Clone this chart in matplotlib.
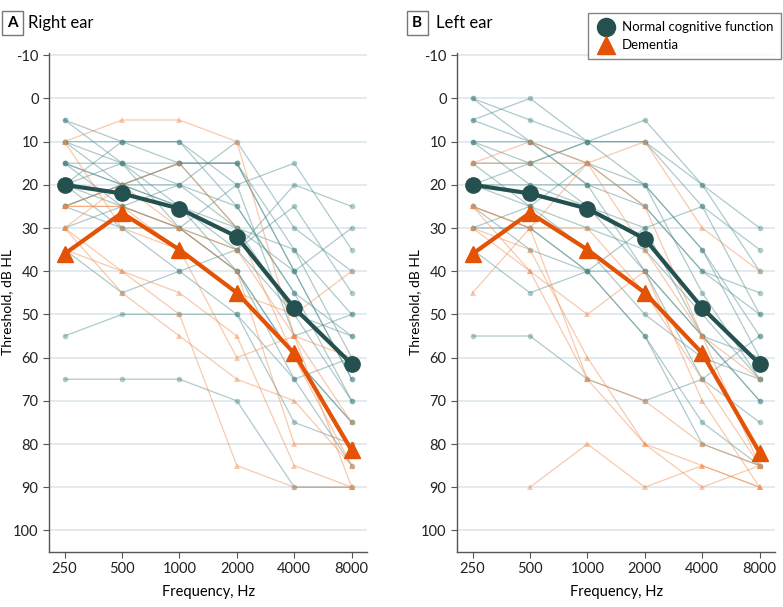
import numpy as np
import matplotlib
matplotlib.use("Agg")
import matplotlib.pyplot as plt
from matplotlib.lines import Line2D

plt.rcParams['font.family'] = ['Lato', 'DejaVu Sans']
plt.rcParams['axes.unicode_minus'] = False

freqs = ["250", "500", "1000", "2000", "4000", "8000"]

# mean audiograms (dB HL)
right_normal_mean = [20, 22, 25.5, 32, 48.5, 61.5]
right_dementia_mean = [36, 26.5, 35, 45, 59, 81.5]
left_normal_mean = [20, 22, 25.5, 32.5, 48.5, 61.5]
left_dementia_mean = [36, 26.5, 35, 45, 59, 82]

# individual audiograms, right ear
right_normal = [
    [5, 10, 10, 25, 45, 55],
    [10, 10, 15, 15, 40, 65],
    [10, 15, 20, 30, 50, 70],
    [15, 15, 15, 15, 35, 60],
    [15, 20, 25, 40, 60, 75],
    [20, 10, 10, 20, 15, 35],
    [20, 25, 30, 35, 25, 45],
    [25, 20, 15, 30, 40, 30],
    [25, 30, 40, 50, 75, 80],
    [35, 45, 40, 35, 20, 25],
    [55, 50, 50, 50, 65, 60],
    [65, 65, 65, 70, 90, 90],
    [5, 15, 30, 20, 55, 50],
    [10, 20, 20, 25, 45, 70],
    [15, 25, 30, 40, 60, 75],
    [20, 30, 30, 40, 65, 85],
    [25, 20, 25, 35, 50, 55],
    [30, 25, 20, 10, 30, 40],
    [15, 20, 15, 15, 40, 65],
    [20, 15, 25, 30, 35, 50],
]
right_dementia = [
    [10, 5, 5, 10, 55, 90],
    [25, 20, 15, 30, 60, 85],
    [30, 40, 45, 55, 85, 90],
    [30, 45, 55, 65, 70, 85],
    [25, 25, 30, 40, 80, 80],
    [10, 30, 35, 60, 55, 60],
    [35, 40, 50, 85, 90, 90],
    [25, 25, 35, 45, 50, 40],
    [30, 20, 30, 35, 55, 75],
]

# individual audiograms, left ear
left_normal = [
    [0, 5, 10, 20, 35, 55],
    [5, 0, 10, 5, 20, 30],
    [5, 10, 15, 20, 45, 65],
    [10, 10, 20, 25, 40, 50],
    [10, 20, 25, 30, 55, 70],
    [15, 15, 10, 10, 25, 35],
    [20, 20, 20, 40, 65, 75],
    [25, 30, 40, 55, 75, 85],
    [30, 25, 15, 25, 40, 45],
    [35, 45, 40, 40, 55, 60],
    [55, 55, 65, 70, 65, 55],
    [15, 25, 30, 35, 50, 65],
    [20, 15, 10, 10, 20, 40],
    [25, 35, 40, 55, 80, 85],
    [30, 30, 40, 30, 25, 50],
    [0, 10, 20, 20, 35, 60],
    [10, 15, 25, 40, 55, 70],
    [20, 25, 35, 50, 60, 65],
]
left_dementia = [
    [15, 10, 15, 10, 30, 40],
    [25, 30, 15, 35, 55, 85],
    [30, 40, 50, 40, 70, 90],
    [45, 30, 30, 45, 65, 85],
    [15, 15, 15, 25, 55, 65],
    [30, 35, 60, 80, 85, 90],
    [25, 30, 65, 80, 90, 85],
    [np.nan, 90, 80, 90, 85, 90],
    [25, 40, 65, 70, 80, 85],
]

normal_color = "#24504f"
dementia_color = "#e35205"
ind_normal = "#4f8a8a"
ind_dementia = "#f08a4b"
grid_color = "#dce8ec"
axis_color = "#555555"


def draw_panel(ax, normal, dementia, normal_mean, dementia_mean):
    x = np.arange(len(freqs))
    for row in normal:
        ax.plot(x, row, color=ind_normal, alpha=0.45, lw=0.9, marker="o",
                ms=4, mew=0, zorder=2)
    for row in dementia:
        ax.plot(x, row, color=ind_dementia, alpha=0.45, lw=0.9, marker="^",
                ms=4.5, mew=0, zorder=2)
    ax.plot(x, normal_mean, color=normal_color, lw=3, marker="o", ms=11,
            zorder=4)
    ax.plot(x, dementia_mean, color=dementia_color, lw=3, marker="^", ms=11,
            zorder=5)

    ax.set_xlim(-0.27, 5.27)
    ax.set_ylim(105, -10.5)
    ax.set_xticks(x, freqs)
    ax.set_yticks(np.arange(-10, 101, 10))
    for yv in np.arange(-10, 101, 10):
        ax.axhline(yv, color=grid_color, lw=1.2, zorder=0)
    for s in ["top", "right"]:
        ax.spines[s].set_visible(False)
    for s in ["left", "bottom"]:
        ax.spines[s].set_color(axis_color)
        ax.spines[s].set_linewidth(1.0)
    ax.tick_params(colors="#222222", labelsize=10.5, length=4, color=axis_color)
    ax.set_xlabel("Frequency, Hz", fontsize=10.5, labelpad=6)
    ax.set_ylabel("Threshold, dB HL", fontsize=10)
    ax.yaxis.set_label_coords(-0.112, 0.5)


fig = plt.figure(figsize=(7.83, 6.07), dpi=100)
ax_a = fig.add_axes([0.0626, 0.0906, 0.4064, 0.822])
ax_b = fig.add_axes([0.5837, 0.0906, 0.4063, 0.822])

draw_panel(ax_a, right_normal, right_dementia, right_normal_mean, right_dementia_mean)
draw_panel(ax_b, left_normal, left_dementia, left_normal_mean, left_dementia_mean)

box = dict(boxstyle="square,pad=0.35", fc="white", ec="#777777", lw=1)
fig.text(0.0095, 0.962, "A", fontsize=11, fontweight="bold", va="center", bbox=box)
fig.text(0.036, 0.962, "Right ear", fontsize=12, va="center")
fig.text(0.5265, 0.962, "B", fontsize=11, fontweight="bold", va="center", bbox=box)
fig.text(0.557, 0.962, "Left ear", fontsize=12, va="center")

handles = [
    Line2D([], [], color=normal_color, marker="o", ms=13, lw=0),
    Line2D([], [], color=dementia_color, marker="^", ms=13, lw=0),
]
leg = fig.legend(handles, ["Normal cognitive function", "Dementia"],
                 loc="upper right", bbox_to_anchor=(0.998, 0.978),
                 fontsize=9.5, frameon=True, fancybox=False,
                 handletextpad=0.4, borderpad=0.6, labelspacing=0.45,
                 handlelength=1.6, borderaxespad=0)
leg.get_frame().set_edgecolor("#666666")
leg.get_frame().set_linewidth(1.0)

fig.savefig("out.png", dpi=100)
